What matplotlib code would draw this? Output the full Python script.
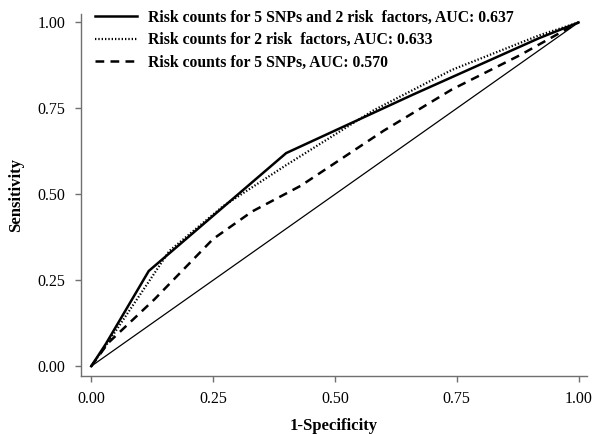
import matplotlib
matplotlib.use("Agg")
import matplotlib.pyplot as plt

# Data
fpr_combined = [0.0, 0.03, 0.118, 0.40, 0.66, 0.92, 1.0]
tpr_combined = [0.0, 0.065, 0.277, 0.62, 0.79, 0.955, 1.0]

fpr_factors = [0.0, 0.03, 0.12, 0.16, 0.27, 0.40, 0.58, 0.74, 0.92, 1.0]
tpr_factors = [0.0, 0.06, 0.25, 0.335, 0.465, 0.585, 0.745, 0.862, 0.963, 1.0]

fpr_snps = [0.0, 0.035, 0.13, 0.25, 0.33, 0.43, 0.60, 0.74, 0.88, 1.0]
tpr_snps = [0.0, 0.068, 0.195, 0.37, 0.45, 0.525, 0.685, 0.805, 0.905, 1.0]

diag = [0.0, 1.0]

labels = [
    "Risk counts for 5 SNPs and 2 risk  factors, AUC: 0.637",
    "Risk counts for 2 risk  factors, AUC: 0.633",
    "Risk counts for 5 SNPs, AUC: 0.570",
]
ticks = [0.0, 0.25, 0.5, 0.75, 1.0]
tick_labels = ["0.00", "0.25", "0.50", "0.75", "1.00"]

plt.rcParams["font.family"] = ["Liberation Serif", "DejaVu Serif"]

fig = plt.figure(figsize=(6.0, 4.34), dpi=100)
ax = fig.add_axes([0.135, 0.134, 0.843, 0.834])

ax.plot(diag, diag, color="black", lw=0.9)
l1, = ax.plot(fpr_combined, tpr_combined, color="black", lw=1.8, ls="-")
l2, = ax.plot(fpr_factors, tpr_factors, color="black", lw=1.6, ls=(0, (0.6, 0.9)))
l3, = ax.plot(fpr_snps, tpr_snps, color="black", lw=1.8, ls=(0, (3.5, 2.5)))

ax.set_xlim(-0.021, 1.017)
ax.set_ylim(-0.028, 1.025)

for s in ["top", "right"]:
    ax.spines[s].set_visible(False)
for s in ["left", "bottom"]:
    ax.spines[s].set_color("#707070")
    ax.spines[s].set_linewidth(1.0)

ax.set_xticks(ticks)
ax.set_xticklabels(tick_labels)
ax.set_yticks(ticks)
ax.set_yticklabels(tick_labels)
ax.tick_params(axis="both", direction="out", length=4, width=1.0,
               color="#707070", labelsize=11.5, labelcolor="black")
ax.tick_params(axis="y", pad=7)
ax.tick_params(axis="x", pad=7)

ax.set_xlabel("1-Specificity", fontsize=12, fontweight="bold", labelpad=8)
ax.set_ylabel("Sensitivity", fontsize=12, fontweight="bold", labelpad=10)

leg = ax.legend([l1, l2, l3], labels, loc="upper left",
                bbox_to_anchor=(0.148, 0.992), bbox_transform=fig.transFigure,
                frameon=False, handlelength=2.7, handletextpad=0.7,
                labelspacing=0.42, borderaxespad=0.0,
                prop={"family": ["Liberation Serif"], "weight": "bold", "size": 11.3})

fig.savefig("out.png", dpi=100)
